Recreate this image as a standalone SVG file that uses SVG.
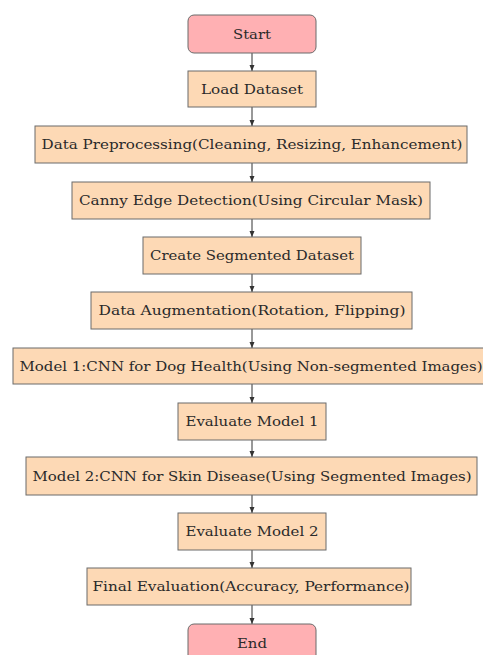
<svg xmlns="http://www.w3.org/2000/svg" width="483" height="655" viewBox="0 0 483 655">
<style>
.p{fill:#FDD9B5;stroke:#6b6b6b;stroke-width:1}
.r{fill:#FFB0B3;stroke:#6b6b6b;stroke-width:1}
.t{font-family:'DejaVu Serif',serif;font-size:13.5px;fill:#2a2a2a;text-anchor:middle}
.c line{stroke:#333;stroke-width:1}
</style>
<defs>
<marker id="ah" viewBox="0 0 6 6" refX="6" refY="3" markerWidth="6" markerHeight="6" orient="auto" markerUnits="userSpaceOnUse">
<path d="M0,0.5 L6,3 L0,5.5 Z" fill="#333"/>
</marker>
</defs>
<rect width="483" height="655" fill="#fff"/>
<g class="c">
<line x1="252" y1="53" x2="252" y2="71" marker-end="url(#ah)"/>
<line x1="252" y1="107" x2="252" y2="126" marker-end="url(#ah)"/>
<line x1="252" y1="163" x2="252" y2="182" marker-end="url(#ah)"/>
<line x1="252" y1="219" x2="252" y2="237" marker-end="url(#ah)"/>
<line x1="252" y1="274" x2="252" y2="292" marker-end="url(#ah)"/>
<line x1="252" y1="329" x2="252" y2="348" marker-end="url(#ah)"/>
<line x1="252" y1="384" x2="252" y2="403" marker-end="url(#ah)"/>
<line x1="252" y1="440" x2="252" y2="457" marker-end="url(#ah)"/>
<line x1="252" y1="495" x2="252" y2="513" marker-end="url(#ah)"/>
<line x1="252" y1="550" x2="252" y2="568" marker-end="url(#ah)"/>
<line x1="252" y1="605" x2="252" y2="624" marker-end="url(#ah)"/>
</g>
<g id="start"><rect class="r" x="188" y="15" width="128" height="38" rx="6"/><text class="t" x="252" y="39" textLength="38" lengthAdjust="spacingAndGlyphs">Start</text></g>
<g id="load"><rect class="p" x="188" y="71" width="128" height="36"/><text class="t" x="252" y="94" textLength="102" lengthAdjust="spacingAndGlyphs">Load Dataset</text></g>
<g id="prep"><rect class="p" x="35" y="126" width="432" height="37"/><text class="t" x="252" y="149" textLength="421" lengthAdjust="spacingAndGlyphs">Data Preprocessing(Cleaning, Resizing, Enhancement)</text></g>
<g id="canny"><rect class="p" x="72" y="182" width="358" height="37"/><text class="t" x="251" y="205" textLength="344" lengthAdjust="spacingAndGlyphs">Canny Edge Detection(Using Circular Mask)</text></g>
<g id="seg"><rect class="p" x="143" y="237" width="218" height="37"/><text class="t" x="252" y="260" textLength="204" lengthAdjust="spacingAndGlyphs">Create Segmented Dataset</text></g>
<g id="aug"><rect class="p" x="91" y="292" width="321" height="37"/><text class="t" x="252" y="315" textLength="307" lengthAdjust="spacingAndGlyphs">Data Augmentation(Rotation, Flipping)</text></g>
<g id="model1"><rect class="p" x="13" y="348" width="478" height="36"/><text class="t" x="251" y="371" textLength="463" lengthAdjust="spacingAndGlyphs">Model 1:CNN for Dog Health(Using Non-segmented Images)</text></g>
<g id="eval1"><rect class="p" x="178" y="403" width="148" height="37"/><text class="t" x="252" y="426" textLength="133" lengthAdjust="spacingAndGlyphs">Evaluate Model 1</text></g>
<g id="model2"><rect class="p" x="26" y="457" width="451" height="38"/><text class="t" x="252" y="481" textLength="439" lengthAdjust="spacingAndGlyphs">Model 2:CNN for Skin Disease(Using Segmented Images)</text></g>
<g id="eval2"><rect class="p" x="178" y="513" width="148" height="37"/><text class="t" x="252" y="536" textLength="133" lengthAdjust="spacingAndGlyphs">Evaluate Model 2</text></g>
<g id="final"><rect class="p" x="87" y="568" width="324" height="37"/><text class="t" x="251" y="591" textLength="317" lengthAdjust="spacingAndGlyphs">Final Evaluation(Accuracy, Performance)</text></g>
<g id="end"><rect class="r" x="188" y="624" width="128" height="38" rx="6"/><text class="t" x="252" y="648" textLength="30" lengthAdjust="spacingAndGlyphs">End</text></g>
</svg>
